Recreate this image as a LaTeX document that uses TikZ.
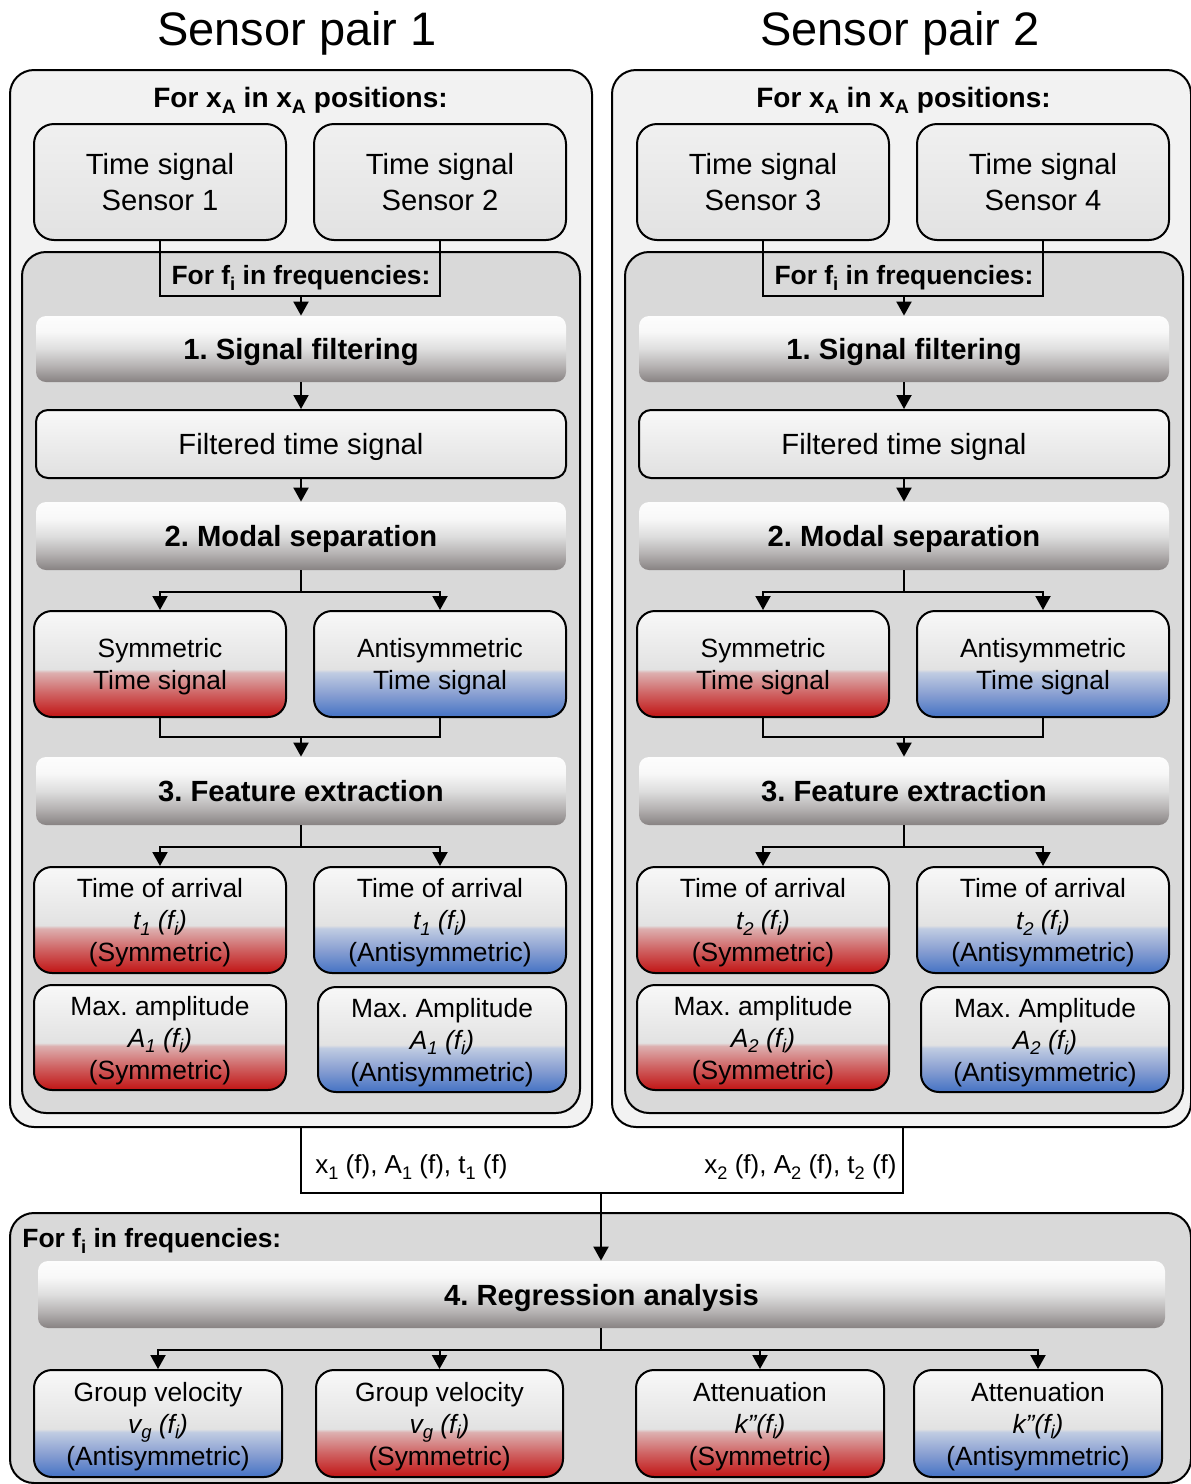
\documentclass[tikz,border=0pt]{standalone}
\usepackage{fontspec}
\setmainfont{Liberation Sans}
\usetikzlibrary{arrows.meta,calc}
\frenchspacing
\newcommand{\lsub}[1]{\raisebox{-0.22em}{\scalebox{0.7}{#1}}}
\definecolor{outerfill}{HTML}{F2F2F2}
\definecolor{innerfill}{HTML}{D9D9D9}
\definecolor{symred}{HTML}{C11414}
\definecolor{redmid}{HTML}{CF6262}
\definecolor{redpale}{HTML}{DDB0B0}
\definecolor{antiblue}{HTML}{4472C4}
\definecolor{bluemid}{HTML}{8AA0D2}
\definecolor{bluepale}{HTML}{C0CCE2}
\definecolor{midgray}{HTML}{E2E2E2}
\definecolor{topwhite}{HTML}{F8F8F8}
\definecolor{stepdark}{HTML}{878282}
\definecolor{stepmid}{HTML}{B5B2B2}
\definecolor{steplight}{HTML}{DEDEDE}
\definecolor{stepwhite}{HTML}{FDFDFD}
\definecolor{sensTop}{HTML}{F0F0F0}
\definecolor{sensBot}{HTML}{E2E2E2}
\definecolor{filtBot}{HTML}{E0E0E0}
\pgfdeclareverticalshading{redsh}{100bp}{color(0bp)=(symred); color(25bp)=(symred); color(36bp)=(redmid); color(46bp)=(redpale); color(47.5bp)=(midgray); color(75bp)=(topwhite); color(100bp)=(topwhite)}
\pgfdeclareverticalshading{bluesh}{100bp}{color(0bp)=(antiblue); color(25bp)=(antiblue); color(36bp)=(bluemid); color(46bp)=(bluepale); color(47.5bp)=(midgray); color(75bp)=(topwhite); color(100bp)=(topwhite)}
\pgfdeclareverticalshading{stepsh}{100bp}{color(0bp)=(stepdark); color(25bp)=(stepdark); color(37bp)=(stepmid); color(50bp)=(steplight); color(63bp)=(topwhite); color(75bp)=(stepwhite); color(100bp)=(stepwhite)}
\tikzset{
  every node/.style={inner sep=0pt, align=center},
  obox/.style={draw, line width=1pt, fill=outerfill, rounded corners=12pt},
  ibox/.style={draw, line width=1pt, fill=innerfill, rounded corners=12pt},
  sensbox/.style={draw, line width=1pt, rounded corners=10pt, top color=sensTop, bottom color=sensBot, minimum width=126pt, minimum height=58pt, font=\fontsize{14.6}{18}\selectfont, text height=28.5pt, text depth=0pt},
  stepbar/.style={shade, shading=stepsh, rounded corners=5pt, minimum width=265pt, minimum height=33pt, font=\bfseries\fontsize{14.6}{18}\selectfont, text height=10.5pt, text depth=0pt},
  filtbox/.style={draw, line width=1pt, rounded corners=6pt, top color=topwhite, bottom color=filtBot, minimum width=265pt, minimum height=34pt, font=\fontsize{14.6}{18}\selectfont, text height=10.5pt, text depth=0pt},
  colbox/.style={draw, line width=1pt, rounded corners=9pt, shade, minimum width=126pt, minimum height=53pt, font=\fontsize{13.2}{16}\selectfont, text depth=0pt},
  symbox/.style={colbox, shading=redsh},
  antibox/.style={colbox, shading=bluesh},
  twoline/.style={text height=25.5pt},
  threeline/.style={text height=41.5pt},
  head/.style={font=\bfseries\fontsize{13.2}{16}\selectfont},
  headx/.style={font=\bfseries\fontsize{14}{16}\selectfont},
  lbl/.style={font=\fontsize{13}{16}\selectfont},
  titl/.style={font=\fontsize{23.5}{28}\selectfont},
  conn/.style={line width=1pt},
  arr/.style={line width=1pt, -{Triangle[length=7pt,width=7.5pt]}},
}
\begin{document}
\begin{tikzpicture}[x=0.5pt,y=-0.5pt]
\useasboundingbox (0,0) rectangle (1190,1484);
\fill[white] (0,0) rectangle (1190,1484);

\node[titl] (title1) at (297,33) {Sensor pair 1};
\node[titl] (title2) at (900,33) {Sensor pair 2};

\foreach \p/\dx/\ocx/\ow/\sa/\sb in {1/0/301/291pt/1/2, 2/603/901.5/289.5pt/3/4}{
  \node[obox, minimum width=\ow, minimum height=528.5pt] (outer\p) at (\ocx,598.5) {};
  \node[headx] (hx\p) at ({300.5+\dx},100) {For x\lsub{A} in x\lsub{A} positions:};
  \node[sensbox] (sA\p) at ({160+\dx},182) {Time signal\\Sensor \sa};
  \node[sensbox] (sB\p) at ({440+\dx},182) {Time signal\\Sensor \sb};
  \node[ibox, minimum width=279pt, minimum height=430.5pt] (inner\p) at ({301+\dx},682.5) {};
  \node[stepbar] (stepA\p) at ({301+\dx},349) {1. Signal filtering};
  \node[filtbox] (filt\p) at ({301+\dx},444) {Filtered time signal};
  \node[stepbar, minimum height=34pt] (stepB\p) at ({301+\dx},536) {2. Modal separation};
  \node[symbox, twoline] (tss\p) at ({160+\dx},664) {Symmetric\\Time signal};
  \node[antibox, twoline] (tsa\p) at ({440+\dx},664) {Antisymmetric\\Time signal};
  \node[stepbar, minimum height=34pt] (stepC\p) at ({301+\dx},791) {3. Feature extraction};
  \node[symbox, threeline] (toas\p) at ({160+\dx},920) {Time of arrival\\{\itshape t\lsub{\p} (f\lsub{i})}\\(Symmetric)};
  \node[antibox, threeline] (toaa\p) at ({440+\dx},920) {Time of arrival\\{\itshape t\lsub{\p} (f\lsub{i})}\\(Antisymmetric)};
  \node[symbox, threeline, minimum height=52.5pt] (amps\p) at ({160+\dx},1037.5) {Max. amplitude\\{\itshape A\lsub{\p} (f\lsub{i})}\\(Symmetric)};
  \node[antibox, threeline, minimum width=124pt, minimum height=52.5pt] (ampa\p) at ({442+\dx},1039.5) {Max. Amplitude\\{\itshape A\lsub{\p} (f\lsub{i})}\\(Antisymmetric)};
  % bracket from sensors
  \coordinate (br\p) at ({301+\dx},296);
  \draw[conn] (sA\p.south) |- (br\p) -| (sB\p.south);
  \node[head] (hf\p) at ({301+\dx},278) {For f\lsub{i} in frequencies:};
  \draw[arr] (br\p) -- (stepA\p.north);
  \draw[arr] (stepA\p.south) -- (filt\p.north);
  \draw[arr] (filt\p.south) -- (stepB\p.north);
  % modal separation branch
  \coordinate (bb\p) at ({301+\dx},592);
  \draw[conn] (stepB\p.south) -- (bb\p);
  \draw[arr] (bb\p) -| (tss\p.north);
  \draw[arr] (bb\p) -| (tsa\p.north);
  % merge
  \coordinate (mm\p) at ({301+\dx},737);
  \draw[conn] (tss\p.south) |- (mm\p) -| (tsa\p.south);
  \draw[arr] (mm\p) -- (stepC\p.north);
  % feature branch
  \coordinate (bc\p) at ({301+\dx},847);
  \draw[conn] (stepC\p.south) -- (bc\p);
  \draw[arr] (bc\p) -| (toas\p.north);
  \draw[arr] (bc\p) -| (toaa\p.north);
}

% junction below pairs
\coordinate (j1) at (301,1193);
\coordinate (j2) at (903,1193);
\coordinate (jm) at (601,1193);
\draw[conn] (outer1.south) -- (j1) -- (j2) -- (outer2.south -| j2);
\node[lbl, anchor=west] (l1) at (315,1167) {x\lsub{1} (f), A\lsub{1} (f), t\lsub{1} (f)};
\node[lbl, anchor=east] (l2) at (897,1167) {x\lsub{2} (f), A\lsub{2} (f), t\lsub{2} (f)};

% bottom regression block
\node[ibox, minimum width=590.5pt, minimum height=135pt] (bottom) at (600.5,1348) {};
\node[head, anchor=west] (hfb) at (22,1241) {For f\lsub{i} in frequencies:};
\node[stepbar, minimum width=563.5pt, minimum height=33.5pt] (reg) at (601.5,1294.5) {4. Regression analysis};
\draw[arr] (jm) -- (jm |- reg.north);
\coordinate (bd) at (601,1350);
\node[antibox, threeline, minimum width=124pt, minimum height=53.5pt] (gva) at (158,1423.5) {Group velocity\\{\itshape v\lsub{g} (f\lsub{i})}\\(Antisymmetric)};
\node[symbox, threeline, minimum width=123.5pt, minimum height=53.5pt] (gvs) at (439.5,1423.5) {Group velocity\\{\itshape v\lsub{g} (f\lsub{i})}\\(Symmetric)};
\node[symbox, threeline, minimum width=124pt, minimum height=53.5pt] (atts) at (760,1423.5) {Attenuation\\{\itshape k”(f\lsub{i})}\\(Symmetric)};
\node[antibox, threeline, minimum width=124pt, minimum height=53.5pt] (atta) at (1038,1423.5) {Attenuation\\{\itshape k”(f\lsub{i})}\\(Antisymmetric)};
\draw[conn] (reg.south -| bd) -- (bd);
\draw[arr] (bd) -| (gva.north);
\draw[arr] (bd) -| (gvs.north);
\draw[arr] (bd) -| (atts.north);
\draw[arr] (bd) -| (atta.north);
\end{tikzpicture}
\end{document}
